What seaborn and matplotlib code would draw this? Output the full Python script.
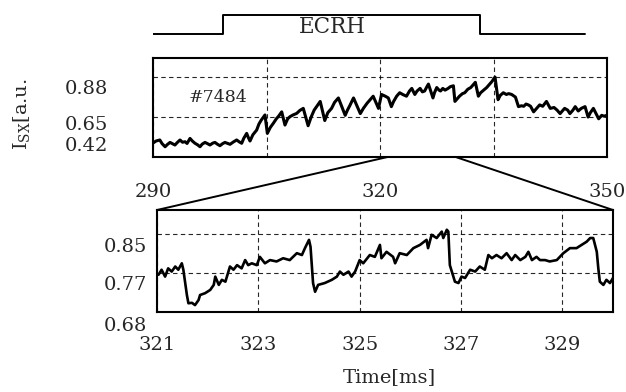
import matplotlib
matplotlib.use("Agg")
import matplotlib.pyplot as plt
import pandas as pd
import seaborn as sns
from matplotlib.patches import ConnectionPatch
from matplotlib.transforms import ScaledTranslation

# ECRH heating window (on/off waveform)
ecrh_t = [289.6, 299.3, 299.3, 333.2, 333.2, 347.1]
ecrh_level = [0, 0, 1, 1, 0, 0]
ecrh_label = "ECRH"

shot_label = "#7484"

# Soft X-ray intensity, whole discharge window (ms, a.u.)
overview_t = [290.0, 290.4, 290.9, 291.2, 291.6, 291.9, 292.25, 292.6, 292.9, 293.2,
              293.57, 293.9, 294.23, 294.5, 294.89, 295.2, 295.55, 295.9, 296.21, 296.5,
              296.87, 297.2, 297.53, 297.9, 298.19, 298.5, 298.85, 299.2, 299.51, 299.8,
              300.18, 300.6, 301.06, 301.4, 301.72, 302.0, 302.38, 302.6, 302.82, 303.2,
              303.7, 304.0, 304.3, 304.8, 305.11, 305.5, 305.9, 306.3, 306.6, 307.01,
              307.44, 307.8, 308.1, 308.5, 308.99, 309.4, 309.86, 310.5, 310.9, 311.3,
              311.7, 312.1, 312.7, 313.1, 313.6, 314.0, 314.5, 315.4, 315.7, 316.0,
              316.5, 317.4, 317.8, 318.3, 318.7, 319.1, 319.8, 320.2, 320.7, 321.1,
              321.5, 321.8, 322.2, 322.6, 323.0, 323.5, 323.9, 324.2, 324.6, 324.9,
              325.3, 325.6, 325.9, 326.2, 326.4, 327.0, 327.2, 327.5, 327.8, 328.0,
              328.3, 328.6, 329.0, 329.3, 329.7, 329.9, 330.2, 330.5, 330.9, 331.2,
              331.6, 332.0, 332.3, 332.6, 333.0, 333.3, 333.7, 334.1, 334.5, 334.8,
              335.2, 335.6, 335.9, 336.3, 336.7, 337.0, 337.4, 337.9, 338.3, 338.7,
              339.0, 339.3, 339.6, 339.9, 340.3, 340.7, 341.1, 341.5, 342.0, 342.5,
              343.0, 343.4, 343.8, 344.1, 344.4, 344.8, 345.1, 345.5, 345.8, 346.2,
              346.6, 347.1, 347.5, 347.8, 348.2, 348.6, 348.9, 349.3, 349.6, 350.0]
overview_isx = [0.500, 0.512, 0.518, 0.497, 0.479, 0.492, 0.504, 0.496, 0.489, 0.503,
                0.518, 0.505, 0.508, 0.498, 0.527, 0.512, 0.499, 0.490, 0.479, 0.494,
                0.504, 0.497, 0.489, 0.500, 0.504, 0.494, 0.485, 0.497, 0.504, 0.499,
                0.493, 0.506, 0.518, 0.507, 0.499, 0.528, 0.556, 0.532, 0.512, 0.548,
                0.575, 0.610, 0.632, 0.662, 0.556, 0.590, 0.614, 0.640, 0.655, 0.680,
                0.604, 0.640, 0.652, 0.662, 0.671, 0.688, 0.700, 0.600, 0.650, 0.690,
                0.715, 0.740, 0.630, 0.675, 0.700, 0.735, 0.760, 0.660, 0.690, 0.715,
                0.760, 0.670, 0.700, 0.730, 0.750, 0.770, 0.700, 0.780, 0.770, 0.760,
                0.710, 0.740, 0.770, 0.790, 0.780, 0.770, 0.800, 0.815, 0.780, 0.800,
                0.815, 0.795, 0.800, 0.825, 0.840, 0.760, 0.790, 0.820, 0.805, 0.800,
                0.815, 0.805, 0.815, 0.825, 0.830, 0.740, 0.755, 0.770, 0.785, 0.790,
                0.810, 0.820, 0.835, 0.850, 0.770, 0.790, 0.805, 0.820, 0.840, 0.855,
                0.880, 0.750, 0.775, 0.790, 0.780, 0.785, 0.780, 0.765, 0.710, 0.715,
                0.712, 0.725, 0.720, 0.712, 0.680, 0.700, 0.720, 0.712, 0.740, 0.700,
                0.705, 0.690, 0.670, 0.685, 0.700, 0.690, 0.670, 0.690, 0.710, 0.685,
                0.700, 0.710, 0.650, 0.675, 0.700, 0.665, 0.640, 0.660, 0.655, 0.660]
overview_xticks = [290, 305, 320, 335, 350]
overview_xticklabels = ["290", "", "320", "", "350"]
overview_yticks = [0.42, 0.65, 0.88]
overview_yticklabels = ["0.42", "0.65", "0.88"]

# Expanded view of the sawtooth crashes, 321-330 ms
detail_t = [321.03, 321.09, 321.16, 321.22, 321.29, 321.36, 321.42, 321.49, 321.52,
            321.59, 321.62, 321.69, 321.75, 321.82, 321.85, 321.95, 322.05, 322.12,
            322.15, 322.22, 322.28, 322.35, 322.44, 322.51, 322.58, 322.67, 322.74,
            322.80, 322.87, 322.97, 323.03, 323.13, 323.23, 323.36, 323.49, 323.62,
            323.76, 323.86, 323.92, 324.00, 324.03, 324.08, 324.12, 324.18, 324.31,
            324.45, 324.55, 324.61, 324.68, 324.78, 324.84, 324.91, 325.00, 325.07,
            325.20, 325.30, 325.40, 325.43, 325.53, 325.66, 325.70, 325.79, 325.93,
            326.06, 326.19, 326.32, 326.35, 326.42, 326.52, 326.62, 326.65, 326.72,
            326.75, 326.78, 326.88, 326.95, 327.01, 327.08, 327.18, 327.28, 327.37,
            327.47, 327.54, 327.61, 327.70, 327.80, 327.90, 328.00, 328.07, 328.17,
            328.27, 328.33, 328.40, 328.49, 328.56, 328.66, 328.75, 328.89, 329.02,
            329.15, 329.28, 329.38, 329.48, 329.55, 329.61, 329.68, 329.71, 329.74,
            329.81, 329.87, 329.94, 330.00]
detail_isx = [0.761, 0.772, 0.757, 0.775, 0.768, 0.779, 0.772, 0.786, 0.772,
              0.717, 0.699, 0.700, 0.695, 0.706, 0.717, 0.721, 0.728, 0.739,
              0.757, 0.739, 0.750, 0.746, 0.779, 0.772, 0.782, 0.775, 0.793,
              0.782, 0.786, 0.782, 0.800, 0.786, 0.793, 0.790, 0.797, 0.793,
              0.808, 0.804, 0.819, 0.837, 0.822, 0.743, 0.724, 0.739, 0.743,
              0.750, 0.757, 0.768, 0.761, 0.768, 0.757, 0.768, 0.793, 0.786,
              0.804, 0.800, 0.826, 0.797, 0.811, 0.800, 0.786, 0.808, 0.804,
              0.819, 0.826, 0.837, 0.819, 0.848, 0.841, 0.855, 0.841, 0.859,
              0.855, 0.782, 0.746, 0.743, 0.757, 0.754, 0.772, 0.768, 0.779,
              0.772, 0.804, 0.797, 0.804, 0.797, 0.808, 0.793, 0.804, 0.793,
              0.800, 0.811, 0.793, 0.800, 0.793, 0.793, 0.790, 0.793, 0.808,
              0.819, 0.819, 0.826, 0.833, 0.841, 0.841, 0.811, 0.775, 0.746,
              0.739, 0.750, 0.743, 0.754]
detail_xticks = [321, 323, 325, 327, 329]
detail_xticklabels = ["321", "323", "325", "327", "329"]
detail_yticks = [0.68, 0.765, 0.85]
detail_yticklabels = ["0.68", "0.77", "0.85"]

sns.set_theme(style="white")
plt.rcParams["font.family"] = ["DejaVu Serif"]
plt.rcParams["mathtext.fontset"] = "dejavuserif"
plt.rcParams["axes.edgecolor"] = "black"

W, H = 626, 392
fig = plt.figure(figsize=(W / 100, H / 100), dpi=100)
fig.patch.set_facecolor("white")


def frac(left, top, right, bottom):
    return [left / W, 1 - bottom / H, (right - left) / W, (bottom - top) / H]


ax_e = fig.add_axes(frac(153, 8, 607, 40))
ax_top = fig.add_axes(frac(153, 58, 607, 157))
ax_bot = fig.add_axes(frac(157, 210, 613, 312))

# ECRH waveform
ecrh_df = pd.DataFrame({"t": ecrh_t, "level": ecrh_level})
sns.lineplot(data=ecrh_df, x="t", y="level", ax=ax_e, color="black",
             linewidth=1.4, estimator=None, sort=False)
ax_e.set_xlim(290, 350)
ax_e.set_ylim(-0.316, 1.368)
ax_e.axis("off")
ax_e.text(313.7, 0.37, ecrh_label, ha="center", va="center", fontsize=15.5)

grid_kw = dict(color="black", linestyle=(0, (4, 3)), linewidth=0.8, alpha=0.85)

# Overview panel
over_df = pd.DataFrame({"t": overview_t, "isx": overview_isx})
sns.lineplot(data=over_df, x="t", y="isx", ax=ax_top, color="black",
             linewidth=2.2, estimator=None, sort=False)
ax_top.set_xlim(290, 350)
ax_top.set_ylim(0.42, 0.99)
ax_top.set_xticks(overview_xticks)
ax_top.set_xticklabels(overview_xticklabels)
ax_top.set_yticks(overview_yticks)
ax_top.set_yticklabels(overview_yticklabels)
ax_top.tick_params(axis="x", length=0, pad=19, labelsize=14)
ax_top.tick_params(axis="y", length=0, pad=32, labelsize=14)
ax_top.grid(True, **grid_kw)
ax_top.text(298.6, 0.765, shot_label, ha="center", va="center", fontsize=12.5)

# Detail panel
det_df = pd.DataFrame({"t": detail_t, "isx": detail_isx})
sns.lineplot(data=det_df, x="t", y="isx", ax=ax_bot, color="black",
             linewidth=1.9, estimator=None, sort=False)
ax_bot.set_xlim(321, 330)
ax_bot.set_ylim(0.68, 0.902)
ax_bot.set_xticks(detail_xticks)
ax_bot.set_xticklabels(detail_xticklabels)
ax_bot.set_yticks(detail_yticks)
ax_bot.set_yticklabels(detail_yticklabels)
ax_bot.tick_params(axis="x", length=0, pad=17, labelsize=14)
ax_bot.tick_params(axis="y", length=0, pad=7, labelsize=14)
ax_bot.grid(True, **grid_kw)

for ax in (ax_top, ax_bot):
    ax.set_xlabel("")
    ax.set_ylabel("")
    for sp in ax.spines.values():
        sp.set_color("black")
        sp.set_linewidth(1.5)


def shift(labels, offsets_px):
    for lab, dy in zip(labels, offsets_px):
        lab.set_transform(lab.get_transform()
                          + ScaledTranslation(0, dy / 100, fig.dpi_scale_trans))


shift(ax_top.get_yticklabels(), [13, -6, -10])
shift(ax_bot.get_yticklabels(), [-12, -10, -11])

# Zoom connectors between the two panels
for tx in (321, 330):
    con = ConnectionPatch(xyA=(tx, 0.42), coordsA=ax_top.transData,
                          xyB=(tx, 0.902), coordsB=ax_bot.transData,
                          color="black", linewidth=1.4)
    fig.add_artist(con)

fig.text(22 / W, 1 - 114 / H, r"I$_{\rm SX}$[a.u.", rotation=90,
         ha="center", va="center", fontsize=14)
fig.text(389 / W, 1 - 377 / H, "Time[ms]", ha="center", va="center", fontsize=14)

fig.savefig("out.png", dpi=100, facecolor="white")
